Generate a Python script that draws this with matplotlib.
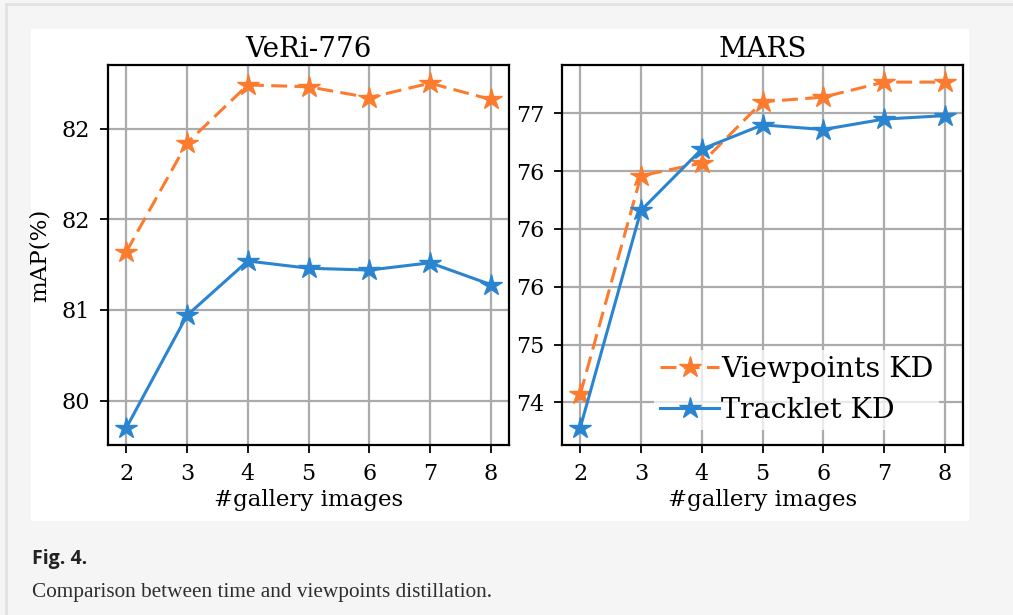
import matplotlib
matplotlib.use("Agg")
import matplotlib.pyplot as plt
from matplotlib.patches import Rectangle
from matplotlib.lines import Line2D
from matplotlib.ticker import FormatStrFormatter, MultipleLocator

# ---- data ----
gallery = [2, 3, 4, 5, 6, 7, 8]
veri_viewpoints = [81.32, 81.92, 82.24, 82.23, 82.17, 82.25, 82.16]
veri_tracklet = [80.35, 80.97, 81.27, 81.23, 81.22, 81.26, 81.14]
mars_viewpoints = [74.57, 76.46, 76.57, 77.10, 77.14, 77.27, 77.27]
mars_tracklet = [74.28, 76.16, 76.69, 76.90, 76.86, 76.95, 76.98]
titles = ["VeRi-776", "MARS"]
series_names = ["Viewpoints KD", "Tracklet KD"]
caption_label = "Fig. 4."
caption_text = "Comparison between time and viewpoints distillation."

ORANGE = "#fd7b2e"
BLUE = "#2b84d0"

fig = plt.figure(figsize=(10.13, 6.15), dpi=100)
fig.patch.set_facecolor("#f5f5f5")

# page decoration: border lines and white figure panel
fig.add_artist(Line2D([5.5 / 1013, 5.5 / 1013], [0, 1 - 3.5 / 615], transform=fig.transFigure,
                      color="#e2e2e2", lw=2))
fig.add_artist(Line2D([5.5 / 1013, 1], [1 - 3.5 / 615, 1 - 3.5 / 615], transform=fig.transFigure,
                      color="#e2e2e2", lw=2))
fig.add_artist(Rectangle((31 / 1013, 1 - 521 / 615), (969 - 31) / 1013, (521 - 29) / 615,
                         transform=fig.transFigure, facecolor="white", edgecolor="none", zorder=0))

serif = ["DejaVu Serif"]

ax1 = fig.add_axes([108 / 1013, 1 - 445 / 615, (509 - 108) / 1013, (445 - 65) / 615])
ax2 = fig.add_axes([562 / 1013, 1 - 445 / 615, (963 - 562) / 1013, (445 - 65) / 615])

configs = [
    (ax1, veri_viewpoints, veri_tracklet, (80.256, 82.35)),
    (ax2, mars_viewpoints, mars_tracklet, (74.131, 77.418)),
]

for i, (ax, vp, tr, ylim) in enumerate(configs):
    ax.plot(gallery, vp, color=ORANGE, ls="--", lw=2.2, marker="*", ms=16,
            label=series_names[0], zorder=3, dashes=(5.2, 2.4))
    ax.plot(gallery, tr, color=BLUE, ls="-", lw=2.2, marker="*", ms=16,
            label=series_names[1], zorder=3)
    ax.set_xlim(1.7, 8.3)
    ax.set_ylim(*ylim)
    ax.set_xticks(gallery)
    ax.yaxis.set_major_locator(MultipleLocator(0.5))
    ax.yaxis.set_major_formatter(FormatStrFormatter("%.0f"))
    ax.grid(True, color="#ababab", lw=1.6)
    ax.set_axisbelow(True)
    for sp in ax.spines.values():
        sp.set_linewidth(1.6)
        sp.set_color("black")
    ax.tick_params(labelsize=16, width=1.3, length=6, pad=7, color="black")
    for lab in ax.get_xticklabels() + ax.get_yticklabels():
        lab.set_fontfamily(serif)
    ax.set_title(titles[i], fontsize=20, family=serif, pad=6)
    ax.set_xlabel("#gallery images", fontsize=16.5, family=serif, labelpad=3)

ax1.set_ylabel("mAP(%)", fontsize=16.5, family=serif, labelpad=8)

leg = ax2.legend(loc="lower right", bbox_to_anchor=(0.94, 0.04),
                 prop={"family": serif, "size": 20.5}, frameon=True,
                 framealpha=0.75, edgecolor="none", facecolor="white", handlelength=2.1,
                 handletextpad=0.05, borderaxespad=0.0, labelspacing=0.5, borderpad=0.2)

fig.text(32 / 1013, 1 - 559 / 615, caption_label, fontsize=14, fontweight="bold",
         family=["Open Sans", "DejaVu Sans"], color="#222222", va="center", ha="left")
fig.text(32 / 1013, 1 - 592 / 615, caption_text, fontsize=15.3, family=["Liberation Serif"],
         color="#2e2e2e", va="center", ha="left")

fig.savefig("out.png", dpi=100, facecolor=fig.get_facecolor())
